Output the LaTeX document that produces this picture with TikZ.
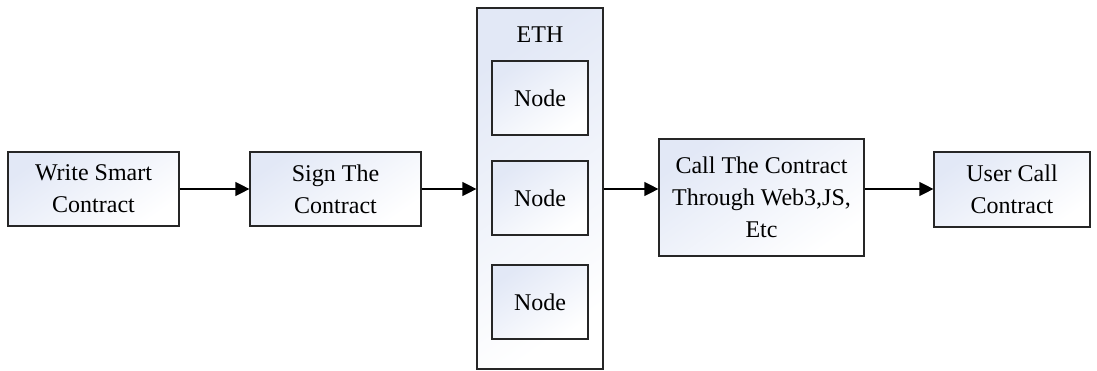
\documentclass[tikz,border=0pt]{standalone}
\usepackage{fontspec}
\setmainfont{Liberation Serif}
\usetikzlibrary{arrows.meta}
\definecolor{boxtint}{RGB}{226,232,246}
\tikzset{
  x=1pt,y=1pt,
  box/.style={draw=black!85, line width=1.2pt, top color=boxtint, bottom color=white, shading angle=35,
    align=center, inner sep=0pt, font=\fontsize{24}{32}\selectfont},
  arr/.style={line width=1.3pt, -{Triangle[length=14pt,width=14pt]}},
}
\begin{document}
\begin{tikzpicture}
\useasboundingbox (0,0) rectangle (1097,370);
\node[box, minimum width=171pt, minimum height=74pt] (b1) at (93.5,181) {Write Smart\\Contract};
\node[box, minimum width=171pt, minimum height=74pt] (b2) at (335.5,181) {Sign The\\Contract};
\node[box, minimum width=126pt, minimum height=361pt] (eth) at (540,181.5) {};
\node[font=\fontsize{24}{32}\selectfont] (ethl) at (540,335) {ETH};
\node[box, minimum width=96pt, minimum height=74pt] (n1) at (540,272) {Node};
\node[box, minimum width=96pt, minimum height=74pt] (n2) at (540,172) {Node};
\node[box, minimum width=96pt, minimum height=74pt] (n3) at (540,68) {Node};
\node[box, minimum width=205pt, minimum height=117pt] (b4) at (761.5,172.5) {Call The Contract\\Through Web3,JS,\\Etc};
\node[box, minimum width=156pt, minimum height=75pt] (b5) at (1012,180.5) {User Call\\Contract};
\draw[arr] (b1.east) -- (b2.west);
\draw[arr] (b2.east) -- (b2.east -| eth.west);
\draw[arr] (b2.east -| eth.east) -- (b2.east -| b4.west);
\draw[arr] (b4.east |- b1.east) -- (b5.west |- b1.east);
\end{tikzpicture}
\end{document}
